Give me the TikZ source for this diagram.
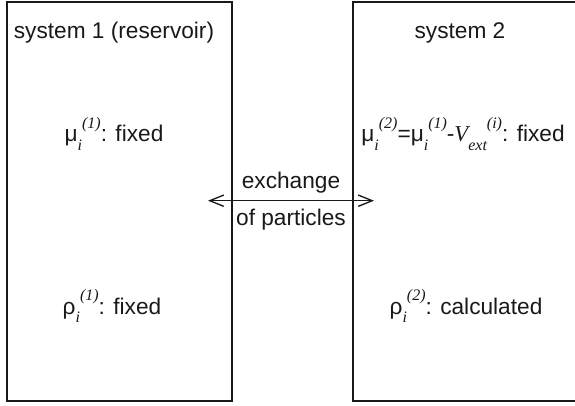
\documentclass[tikz,border=0pt]{standalone}
\usepackage{fontspec}
\setmainfont{Liberation Sans}
\newfontfamily\mathserif{Liberation Serif}
\usepackage{tikz}
\usetikzlibrary{arrows.meta}
\usetikzlibrary{positioning}
\tikzstyle{system} = [rectangle, draw=black!90, line width=1.3pt, inner sep=0pt]
\tikzstyle{entry} = [anchor=base, inner sep=0pt, text=black!90]
\tikzstyle{transfer} = [line width=1pt, draw=black!90, {Straight Barb[length=10.5pt,width=8.5pt,line width=1pt]}-{Straight Barb[length=10.5pt,width=8.5pt,line width=1pt]}]
\newcommand{\idxlow}[1]{\raisebox{-6.4pt}{\fontsize{12}{12}\selectfont\mathserif\itshape #1}}
\newcommand{\idxhigh}[1]{\raisebox{10pt}{\fontsize{12}{12}\selectfont\mathserif\itshape #1}}

\begin{document}
\begin{tikzpicture}[x=0.75pt, y=-0.75pt, font=\fontsize{17}{20}\selectfont]
 \useasboundingbox (0,0) rectangle (575,405);

 \node (sys1) [system, minimum width=168.75pt, minimum height=299.25pt] at (119.5,201.5) {};
 \node (sys2) [system, minimum width=185.25pt, minimum height=299.25pt] at (476.5,201.5) {};

 \node (head1) [entry] at (114,38) {system 1 (reservoir)};
 \node (head2) [entry] at (460,38) {system 2};

 \node (mu1) [entry] at (114,141.5) {μ\idxlow{i}\idxhigh{(1)}: fixed};
 \node (mu2) [entry] at (463,141.5) {μ\idxlow{i}\idxhigh{(2)}=μ\idxlow{i}\idxhigh{(1)}-{\mathserif\itshape V}\idxlow{ext}\idxhigh{(i)}: fixed};

 \node (rho1) [entry] at (112,314) {ρ\idxlow{i}\idxhigh{(1)}: fixed};
 \node (rho2) [entry] at (466,314) {ρ\idxlow{i}\idxhigh{(2)}: calculated};

 \node (exch) [entry] at (291,188) {exchange};
 \node (part) [entry] at (291,225) {of particles};

 \coordinate (ex-left) at (208,200.7);
 \coordinate (ex-right) at (374,200.7);
 \draw[transfer] (ex-left) -- (ex-right);
\end{tikzpicture}
\end{document}
